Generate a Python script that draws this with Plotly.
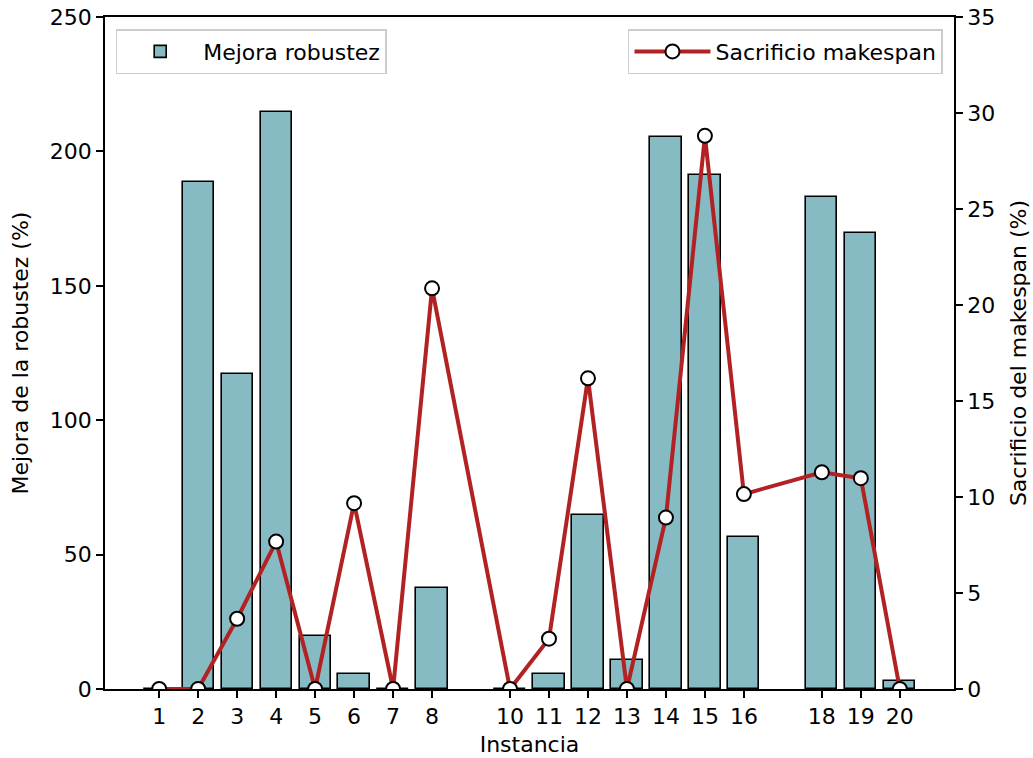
import plotly.graph_objects as go

# Instances evaluated (9 and 17 have no results)
instancias = [1, 2, 3, 4, 5, 6, 7, 8, 10, 11, 12, 13, 14, 15, 16, 18, 19, 20]
mejora_robustez = [0, 188.7, 117.2, 214.5, 19.8, 5.6, 0, 37.5, 0, 5.7, 64.7, 10.9,
                   205.3, 191.4, 56.4, 183.1, 169.6, 3.1]
sacrificio_makespan = [0, 0, 3.66, 7.68, 0, 9.68, 0, 20.87, 0, 2.62, 16.18, 0,
                       8.93, 28.81, 10.15, 11.29, 10.98, 0]

FONT = "DejaVu Sans"
FS = 22

fig = go.Figure()

fig.add_trace(go.Bar(
    x=instancias, y=mejora_robustez, width=0.8,
    name="Mejora robustez", showlegend=True,
    marker=dict(color="#87bbc4", line=dict(color="black", width=1.6)),
    legend="legend", yaxis="y",
))

fig.add_trace(go.Scatter(
    x=instancias, y=sacrificio_makespan,
    mode="lines+markers", name="Sacrificio makespan", showlegend=True,
    line=dict(color="#b22222", width=4),
    marker=dict(symbol="circle", size=14, color="white",
                line=dict(color="black", width=2)),
    legend="legend2", yaxis="y2",
))

axis_common = dict(
    showline=True, linecolor="black", linewidth=1.8,
    ticks="outside", ticklen=7, tickwidth=1.8, tickcolor="black",
    showgrid=False, zeroline=False,
    tickfont=dict(family=FONT, size=FS, color="black"),
)

legend_common = dict(
    yanchor="top", y=0.982,
    bgcolor="rgba(255,255,255,0.8)", bordercolor="#cccccc", borderwidth=1.5,
    font=dict(family=FONT, size=FS),
)

fig.update_layout(
    width=1033, height=758,
    margin=dict(l=105, r=79, t=17, b=69, autoexpand=False),
    plot_bgcolor="white", paper_bgcolor="white",
    font=dict(family=FONT, size=FS, color="black"),
    showlegend=True,
    bargap=0,
    xaxis=dict(
        **axis_common, mirror=True,
        range=[-0.39, 21.39],
        tickmode="array", tickvals=instancias,
        ticktext=[str(i) for i in instancias],
        title=dict(text="Instancia", standoff=8,
                   font=dict(family=FONT, size=FS)),
    ),
    yaxis=dict(
        **axis_common,
        range=[0, 250], tickvals=[0, 50, 100, 150, 200, 250],
        title=dict(text="Mejora de la robustez (%)", standoff=15,
                   font=dict(family=FONT, size=FS)),
    ),
    yaxis2=dict(
        **axis_common,
        overlaying="y", side="right", anchor="x",
        range=[0, 35], tickvals=[0, 5, 10, 15, 20, 25, 30, 35],
        title=dict(text="Sacrificio del makespan (%)", standoff=16,
                   font=dict(family=FONT, size=FS)),
    ),
    legend=dict(**legend_common, x=0.0126, xanchor="left", itemwidth=76),
    legend2=dict(**legend_common, x=0.987, xanchor="right", itemwidth=76),
)

fig.write_html("out.html")
